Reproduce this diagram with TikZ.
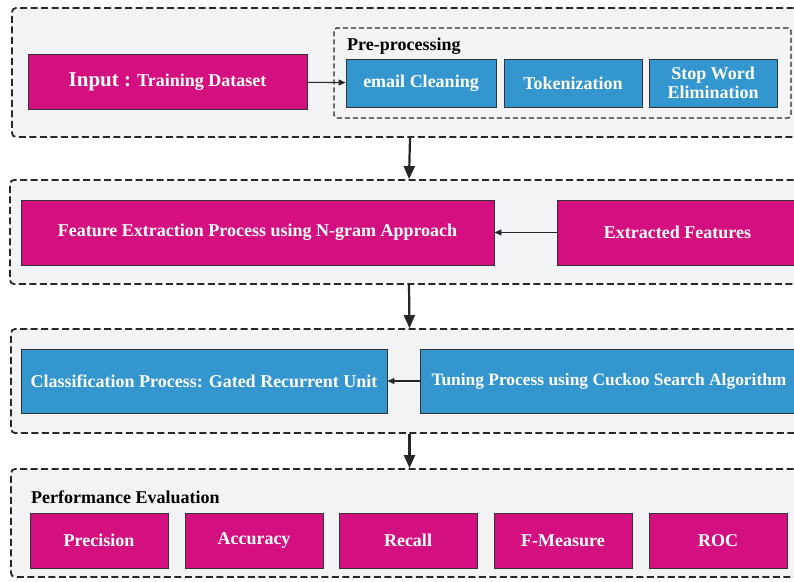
\documentclass[tikz,border=0pt]{standalone}
\usepackage{fontspec}
\setmainfont{Liberation Serif}
\usetikzlibrary{arrows.meta,fit}
\definecolor{mag}{RGB}{212,16,128}
\definecolor{blu}{RGB}{52,150,207}
\definecolor{panel}{RGB}{242,243,245}
\definecolor{dashc}{RGB}{40,40,40}
\tikzset{
  group/.style={draw=dashc, line width=1.8pt, dash pattern=on 7pt off 3.5pt, fill=panel, rounded corners=4pt, inner sep=0pt},
  subgroup/.style={draw=dashc, line width=1.4pt, dash pattern=on 5pt off 3pt, fill=panel, rounded corners=3pt, inner sep=0pt},
  boxbase/.style={draw=black!80, line width=0.9pt, text=white, font=\bfseries\fontsize{18}{20}\selectfont, align=center, inner sep=0pt},
  mbox/.style={boxbase, fill=mag},
  bbox/.style={boxbase, fill=blu},
  lbl/.style={font=\bfseries\fontsize{18}{20}\selectfont, anchor=west, inner sep=0pt},
  harrow/.style={-{Triangle[length=7pt,width=6pt]}, line width=1.1pt, black!85},
  varrow/.style={-{Triangle[length=13pt,width=11pt]}, line width=2.2pt, black!85},
}
\begin{document}
\begin{tikzpicture}[x=1pt,y=-1pt]
\useasboundingbox (0,0) rectangle (794,581);
\fill[white] (0,0) rectangle (794,581);
\clip (0,0) rectangle (794,581);
% group frames
\coordinate (g1a) at (12,8);  \coordinate (g1b) at (808,137);
\coordinate (g2a) at (10,180); \coordinate (g2b) at (808,284);
\coordinate (g3a) at (11,329); \coordinate (g3b) at (808,433);
\coordinate (g4a) at (11,469); \coordinate (g4b) at (808,577);
\coordinate (pa) at (334,28);  \coordinate (pb) at (791,118);
\node[group, fit=(g1a)(g1b)] (g1) {};
\node[group, fit=(g2a)(g2b)] (g2) {};
\node[group, fit=(g3a)(g3b)] (g3) {};
\node[group, fit=(g4a)(g4b)] (g4) {};
\node[subgroup, fit=(pa)(pb)] (pre) {};
% row 1
\node[mbox, minimum width=279pt, minimum height=55pt] (input) at (167.5,81.5)
  {{\fontsize{21}{22}\selectfont Input :} Training Dataset};
\node[lbl] (prel) at (347,46) {Pre-processing};
\node[bbox, minimum width=150pt, minimum height=48pt] (email) at (421,83) {email Cleaning};
\node[bbox, minimum width=138pt, minimum height=48pt] (tok) at (573,83) {Tokenization};
\node[bbox, minimum width=128pt, minimum height=48pt] (stop) at (713,83) {Stop Word\\[-1pt]Elimination};
\draw[harrow] (input) -- (email);
% row 2
\node[mbox, minimum width=473pt, minimum height=65pt] (feat) at (257.5,232.5) {Feature Extraction Process using N-gram Approach};
\node[mbox, minimum width=241pt, minimum height=65pt] (ext) at (677.5,232.5) {Extracted Features};
\draw[harrow] (ext) -- (feat);
% row 3
\node[bbox, minimum width=366pt, minimum height=64pt] (cls) at (204,381) {Classification Process: Gated Recurrent Unit};
\node[bbox, minimum width=380pt, minimum height=64pt, font=\bfseries\fontsize{17.4}{20}\selectfont] (tun) at (610,381) {\hspace*{-2pt}Tuning Process using Cuckoo Search Algorithm};
\draw[harrow] (tun) -- (cls);
% row 4
\node[lbl] (perf) at (31,497) {Performance Evaluation};
\node[mbox, minimum width=138pt, minimum height=55pt] (prec) at (99,540.5) {Precision};
\node[mbox, minimum width=138pt, minimum height=55pt, text depth=0pt] (acc) at (254,540.5) {\raisebox{3pt}{Accuracy}};
\node[mbox, minimum width=138pt, minimum height=55pt] (rec) at (408,540.5) {Recall};
\node[mbox, minimum width=138pt, minimum height=55pt] (fm) at (563,540.5) {F-Measure};
\node[mbox, minimum width=138pt, minimum height=55pt] (roc) at (718,540.5) {ROC};
% vertical connectors
\draw[varrow] (g1.south) -- (g2.north);
\draw[varrow] (g2.south) -- (g3.north);
\draw[varrow] (g3.south) -- (g4.north);
\end{tikzpicture}
\end{document}
